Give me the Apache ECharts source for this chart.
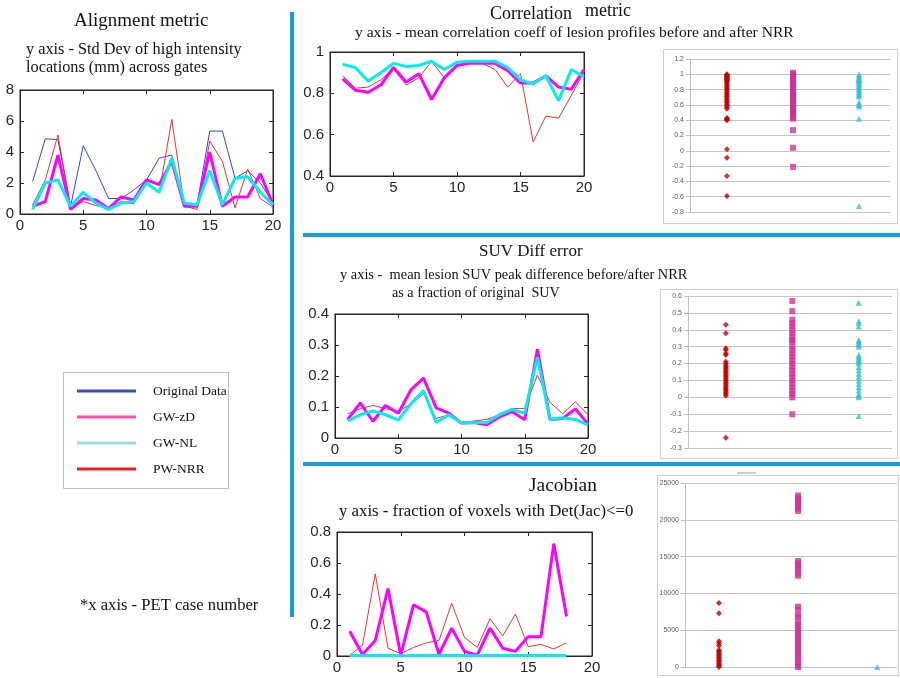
<!DOCTYPE html>
<html lang="en">
<head>
<meta charset="UTF-8">
<title>NRR metrics</title>
<script src="https://cdn.jsdelivr.net/npm/echarts@6/dist/echarts.min.js"></script>
<style>
  html, body { margin: 0; padding: 0; background: #fff; }
  #main { width: 900px; height: 678px; }
</style>
</head>
<body>
<div id="main"></div>
<script>
  // PET case numbers
  const cases = [1, 2, 3, 4, 5, 6, 7, 8, 9, 10, 11, 12, 13, 14, 15, 16, 17, 18, 19, 20];
  const jacCases = [1, 2, 3, 4, 5, 6, 7, 8, 9, 10, 11, 12, 13, 14, 15, 16, 17, 18];

  // Alignment metric
  const alignOrig = [2.1, 4.85, 4.8, 0.5, 4.4, 2.8, 1.0, 1.0, 1.55, 2.2, 3.6, 3.8, 0.7, 0.6, 5.35, 5.35, 2.3, 2.8, 2.0, 0.7];
  const alignPW = [0.6, 2.2, 5.1, 0.4, 0.8, 0.55, 0.35, 0.8, 0.65, 2.1, 1.35, 6.1, 0.5, 0.3, 4.7, 3.4, 0.4, 2.9, 1.0, 0.45];
  const alignZD = [0.5, 0.8, 3.8, 0.3, 1.0, 0.9, 0.35, 1.1, 0.9, 2.2, 1.9, 3.4, 0.5, 0.5, 4.0, 0.5, 1.1, 1.1, 2.6, 0.6];
  const alignNL = [0.3, 2.0, 2.2, 0.5, 1.4, 0.7, 0.3, 0.7, 0.8, 2.0, 1.4, 3.6, 0.7, 0.6, 2.8, 0.6, 2.3, 2.4, 1.4, 0.6];

  // Correlation metric
  const corrPW = [0.885, 0.825, 0.83, 0.865, 0.92, 0.84, 0.875, 0.955, 0.875, 0.94, 0.945, 0.945, 0.915, 0.83, 0.895, 0.565, 0.69, 0.68, 0.79, 0.905];
  const corrZD = [0.87, 0.815, 0.805, 0.84, 0.925, 0.855, 0.895, 0.77, 0.875, 0.935, 0.945, 0.945, 0.945, 0.91, 0.85, 0.85, 0.885, 0.83, 0.82, 0.915];
  const corrNL = [0.94, 0.925, 0.86, 0.9, 0.945, 0.93, 0.935, 0.955, 0.915, 0.95, 0.955, 0.955, 0.955, 0.925, 0.865, 0.845, 0.885, 0.765, 0.915, 0.88];

  // SUV diff error
  const suvPW = [0.078, 0.095, 0.105, 0.095, 0.085, 0.11, 0.142, 0.063, 0.075, 0.05, 0.055, 0.06, 0.075, 0.095, 0.095, 0.203, 0.115, 0.078, 0.117, 0.075];
  const suvZD = [0.059, 0.113, 0.054, 0.105, 0.08, 0.155, 0.193, 0.097, 0.08, 0.048, 0.05, 0.043, 0.068, 0.085, 0.059, 0.286, 0.06, 0.063, 0.094, 0.045];
  const suvNL = [0.055, 0.075, 0.087, 0.075, 0.058, 0.11, 0.153, 0.05, 0.075, 0.048, 0.05, 0.05, 0.075, 0.092, 0.08, 0.26, 0.06, 0.065, 0.06, 0.042];

  // Jacobian
  const jacPW = [0.005, 0.07, 0.53, 0.05, 0.015, 0.055, 0.085, 0.1, 0.34, 0.12, 0.055, 0.24, 0.13, 0.27, 0.06, 0.075, 0.045, 0.085];
  const jacZD = [0.16, 0.01, 0.1, 0.435, 0.005, 0.33, 0.285, 0.01, 0.18, 0.03, 0.005, 0.18, 0.05, 0.03, 0.125, 0.125, 0.725, 0.255];
  const jacNL = [0.003, 0.003, 0.004, 0.003, 0.002, 0.004, 0.004, 0.003, 0.003, 0.003, 0.002, 0.003, 0.003, 0.003, 0.004, 0.004, 0.004, 0.003];

  // per-lesion distributions (right-hand plots)
  const corrPtsPW = [1.0, 0.99, 0.98, 0.97, 0.96, 0.95, 0.94, 0.93, 0.92, 0.91, 0.89, 0.87, 0.85, 0.83, 0.81, 0.79, 0.77, 0.75, 0.73, 0.71, 0.69, 0.67, 0.65, 0.63, 0.61, 0.59, 0.57, 0.55, 0.43, 0.42, 0.41, 0.40, 0.02, -0.09, -0.33, -0.59];
  const corrPtsZD = [1.02, 1.0, 0.98, 0.96, 0.94, 0.92, 0.90, 0.88, 0.86, 0.84, 0.82, 0.80, 0.78, 0.76, 0.74, 0.72, 0.70, 0.68, 0.66, 0.64, 0.62, 0.60, 0.58, 0.56, 0.54, 0.52, 0.50, 0.48, 0.46, 0.44, 0.42, 0.27, 0.04, -0.21];
  const corrPtsNL = [1.0, 0.98, 0.96, 0.95, 0.94, 0.93, 0.92, 0.91, 0.89, 0.87, 0.85, 0.83, 0.81, 0.79, 0.77, 0.75, 0.73, 0.71, 0.63, 0.61, 0.60, 0.58, 0.42, -0.72];

  const suvPtsPW = [0.43, 0.38, 0.29, 0.28, 0.26, 0.25, 0.21, 0.20, 0.19, 0.18, 0.17, 0.16, 0.15, 0.14, 0.13, 0.12, 0.11, 0.10, 0.09, 0.08, 0.07, 0.06, 0.05, 0.04, 0.03, 0.02, 0.01, -0.24];
  const suvPtsZD = [0.57, 0.51, 0.46, 0.44, 0.42, 0.40, 0.38, 0.36, 0.34, 0.33, 0.30, 0.28, 0.26, 0.24, 0.22, 0.20, 0.18, 0.16, 0.14, 0.12, 0.10, 0.08, 0.06, 0.04, 0.02, 0.0, -0.10];
  const suvPtsNL = [0.56, 0.45, 0.44, 0.42, 0.34, 0.33, 0.32, 0.31, 0.30, 0.25, 0.24, 0.23, 0.22, 0.21, 0.20, 0.18, 0.16, 0.14, 0.12, 0.10, 0.08, 0.06, 0.04, 0.02, 0.01, 0.0, -0.11];

  const jacPtsPW = [8700, 7300, 3500, 3200, 2900, 2300, 2100, 1900, 1700, 1500, 1300, 1100, 900, 700, 500, 300, 150, 0];
  const jacPtsZD = [23300, 23000, 22700, 22400, 22100, 21800, 21500, 21200, 14400, 14100, 13800, 13500, 13200, 12700, 12400, 8200, 7800, 7100, 6800, 6200, 5800, 5400, 5000, 4600, 4200, 3800, 3400, 3000, 2600, 2200, 1800, 1400, 1000, 600, 200, 0];
  const jacPtsNL = [0];

  const names = ['Original Data', 'GW-zD', 'GW-NL', 'PW-NRR'];

  const myChart = echarts.init(document.getElementById('main'));
  const grids = [], xAxes = [], yAxes = [], series = [];

  const ink = '#262626';
  const SERIF = '"Liberation Serif", "Times New Roman", serif';

  // matlab style line plot panel
  function matlabPanel(left, top, width, height, yMin, yMax, yStep) {
    const gi = grids.length;
    grids.push({ left, top, width, height, show: true, borderColor: ink, borderWidth: 1 });
    const lbl = { color: ink, fontSize: 15, fontFamily: 'Liberation Sans' };
    const tick = { show: true, inside: true, length: 4, lineStyle: { color: ink } };
    const axLine = { show: true, onZero: false, lineStyle: { color: ink } };
    xAxes.push({ gridIndex: gi, type: 'value', min: 0, max: 20, interval: 5, axisLine: axLine, axisTick: tick, axisLabel: { ...lbl, margin: 4 }, splitLine: { show: false } });
    xAxes.push({ gridIndex: gi, type: 'value', position: 'top', min: 0, max: 20, interval: 5, axisLine: axLine, axisTick: tick, axisLabel: { show: false }, splitLine: { show: false } });
    yAxes.push({ gridIndex: gi, type: 'value', min: yMin, max: yMax, interval: yStep, axisLine: axLine, axisTick: tick, axisLabel: { ...lbl, margin: 6 }, splitLine: { show: false } });
    yAxes.push({ gridIndex: gi, type: 'value', position: 'right', min: yMin, max: yMax, interval: yStep, axisLine: axLine, axisTick: tick, axisLabel: { show: false }, splitLine: { show: false } });
    return { x: xAxes.length - 2, y: yAxes.length - 2 };
  }

  // excel style distribution panel
  function excelPanel(left, top, width, height, yMin, yMax, yStep, xMin, xMax) {
    const gi = grids.length;
    grids.push({ left, top, width, height });
    xAxes.push({ gridIndex: gi, type: 'value', min: xMin, max: xMax, show: false });
    yAxes.push({
      gridIndex: gi, type: 'value', min: yMin, max: yMax, interval: yStep,
      axisLine: { show: true, onZero: false, lineStyle: { color: '#bfbfbf' } },
      axisTick: { show: true, length: 4, lineStyle: { color: '#bfbfbf' } },
      axisLabel: { color: '#595959', fontSize: 7, fontFamily: 'Liberation Sans', margin: 6, formatter: v => String(v) },
      splitLine: { show: true, lineStyle: { color: '#c4c4c4', width: 1 } }
    });
    return { x: xAxes.length - 1, y: yAxes.length - 1 };
  }

  function addLine(name, ax, xs, ys, color, width) {
    series.push({
      type: 'line', name, xAxisIndex: ax.x, yAxisIndex: ax.y,
      data: xs.map((x, i) => [x, ys[i]]),
      symbol: 'none', lineStyle: { color, width }, itemStyle: { color },
      emphasis: { disabled: true }
    });
  }

  function addPts(name, ax, col, vals, symbol, size, color) {
    series.push({
      type: 'scatter', name, xAxisIndex: ax.x, yAxisIndex: ax.y,
      data: vals.map(v => [col, v]),
      symbol, symbolSize: size, itemStyle: { color }
    });
  }

  const cOrig = '#3c3cf0', cPW = '#f23030', cZD = '#ff00ff', cNL = '#00eeee';

  const a1 = matlabPanel(20, 90, 253, 124, 0, 8, 2);
  addLine('Original Data', a1, cases, alignOrig, cOrig, 1);
  addLine('PW-NRR', a1, cases, alignPW, cPW, 1);
  addLine('GW-zD', a1, cases, alignZD, cZD, 3);
  addLine('GW-NL', a1, cases, alignNL, cNL, 3);

  const a2 = matlabPanel(330, 52, 254, 124, 0.4, 1, 0.2);
  addLine('PW-NRR', a2, cases, corrPW, cPW, 1);
  addLine('GW-zD', a2, cases, corrZD, cZD, 3);
  addLine('GW-NL', a2, cases, corrNL, cNL, 3);

  const a3 = matlabPanel(335, 314, 253, 124, 0, 0.4, 0.1);
  addLine('PW-NRR', a3, cases, suvPW, cPW, 1);
  addLine('GW-zD', a3, cases, suvZD, cZD, 3);
  addLine('GW-NL', a3, cases, suvNL, cNL, 3);

  const a4 = matlabPanel(337, 532, 255, 124, 0, 0.8, 0.2);
  addLine('PW-NRR', a4, jacCases, jacPW, cPW, 1);
  addLine('GW-zD', a4, jacCases, jacZD, cZD, 3);
  addLine('GW-NL', a4, jacCases, jacNL, cNL, 3);

  const pRed = '#c00000', pPink = '#d42f98', pCyan = '#2ec2d6';

  const b1 = excelPanel(690, 59, 200, 153, -0.8, 1.2, 0.2, 0.44, 3.47);
  addPts('PW-NRR', b1, 1, corrPtsPW, 'diamond', 6, pRed);
  addPts('GW-zD', b1, 2, corrPtsZD, 'rect', 6, pPink);
  addPts('GW-NL', b1, 3, corrPtsNL, 'triangle', 6, pCyan);

  const b2 = excelPanel(688, 296, 204, 152, -0.3, 0.6, 0.1, 0.43, 3.5);
  addPts('PW-NRR', b2, 1, suvPtsPW, 'diamond', 6, pRed);
  addPts('GW-zD', b2, 2, suvPtsZD, 'rect', 6, pPink);
  addPts('GW-NL', b2, 3, suvPtsNL, 'triangle', 6, pCyan);

  const b3 = excelPanel(685, 483, 212, 184, 0, 25000, 5000, 0.57, 3.25);
  addPts('PW-NRR', b3, 1, jacPtsPW, 'diamond', 6, pRed);
  addPts('GW-zD', b3, 2, jacPtsZD, 'rect', 6, pPink);
  addPts('GW-NL', b3, 3, jacPtsNL, 'triangle', 6, pCyan);

  function txt(x, y, s, size) {
    return { type: 'text', x, y, silent: true,
      style: { text: s, fontSize: size, fontFamily: SERIF, fill: '#111', textAlign: 'left', textVerticalAlign: 'middle', verticalAlign: 'middle' } };
  }
  const sep = '#14a0e0';
  function bar(x1, y1, x2, y2) {
    return { type: 'line', silent: true, shape: { x1, y1, x2, y2 }, style: { stroke: sep, lineWidth: 4 } };
  }
  function box(x, y, w, h, stroke) {
    return { type: 'rect', silent: true, z: -1, shape: { x, y, width: w, height: h }, style: { fill: '#fff', stroke, lineWidth: 1 } };
  }

  const graphics = [
    bar(292, 12, 292, 617),
    bar(303, 235, 900, 235),
    bar(303, 464, 900, 464),
    box(663.5, 49.5, 234, 174, '#d0d0d0'),
    box(660.5, 289.5, 237, 169, '#d0d0d0'),
    box(657.5, 475.5, 241, 200, '#d0d0d0'),
    { type: 'line', silent: true, shape: { x1: 737, y1: 473, x2: 756, y2: 473 }, style: { stroke: '#9a9a9a', lineWidth: 1 } },
    box(63.5, 372.5, 165, 116, '#bdbdbd'),
    txt(74, 21, 'Alignment metric', 19),
    txt(26, 50, 'y axis - Std Dev of high intensity', 16.3),
    txt(26, 68, 'locations (mm) across gates', 16.3),
    txt(490, 14, 'Correlation', 18),
    txt(585, 11, 'metric', 18),
    txt(355, 33, 'y axis - mean correlation coeff of lesion profiles before and after NRR', 15.6),
    txt(479, 252, 'SUV Diff error', 17),
    txt(340, 275, 'y axis -  mean lesion SUV peak difference before/after NRR', 14.4),
    txt(392, 293, 'as a fraction of original  SUV', 14.2),
    txt(529, 486, 'Jacobian', 19.4),
    txt(339, 512, 'y axis - fraction of voxels with Det(Jac)<=0', 16.8),
    txt(80, 606, '*x axis - PET case number', 16.6)
  ];

  const option = {
    animation: false,
    backgroundColor: '#fff',
    grid: grids,
    xAxis: xAxes,
    yAxis: yAxes,
    legend: {
      orient: 'vertical', left: 72, top: 378, icon: 'rect',
      itemWidth: 59, itemHeight: 3, itemGap: 10,
      textStyle: { fontFamily: SERIF, fontSize: 13.5, color: '#111', lineHeight: 16, padding: [0, 0, 0, 12] },
      data: [
        { name: names[0], itemStyle: { color: '#3f48cc' } },
        { name: names[1], itemStyle: { color: '#ff4fa8' } },
        { name: names[2], itemStyle: { color: '#99dde8' } },
        { name: names[3], itemStyle: { color: '#ee1c1c' } }
      ]
    },
    graphic: graphics,
    series: series
  };

  myChart.setOption(option);
</script>
</body>
</html>
